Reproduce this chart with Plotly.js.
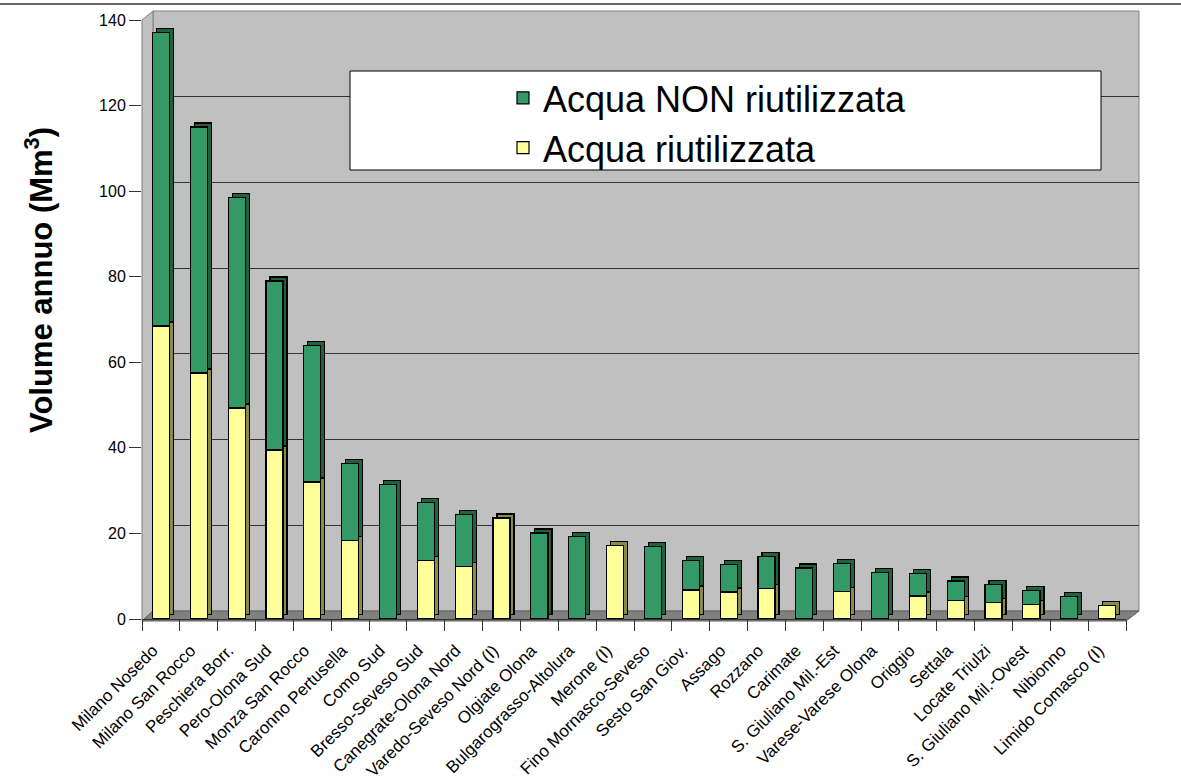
<!DOCTYPE html>
<html>
<head>
<meta charset="utf-8">
<script src="https://cdn.plot.ly/plotly-3.0.1.min.js"></script>
<style>html,body{margin:0;padding:0;background:#fff;}#chart{width:1181px;height:784px;}</style>
</head>
<body>
<div id="chart"></div>
<script>
// ---- data ----
const categories = [
  "Milano Nosedo","Milano San Rocco","Peschiera Borr.","Pero-Olona Sud","Monza San Rocco",
  "Caronno Pertusella","Como Sud","Bresso-Seveso Sud","Canegrate-Olona Nord","Varedo-Seveso Nord (I)",
  "Olgiate Olona","Bulgarograsso-Altolura","Merone (I)","Fino Mornasco-Seveso","Sesto San Giov.",
  "Assago","Rozzano","Carimate","S. Giuliano Mil.-Est","Varese-Varese Olona",
  "Origgio","Settala","Locate Triulzi","S. Giuliano Mil.-Ovest","Nibionno","Limido Comasco (I)"
];
const riutilizzata = [68.5,57.5,49.3,39.5,32.0,18.3,null,13.7,12.2,23.6,
  null,null,17.1,null,6.8,6.3,7.2,null,6.5,null,5.4,4.4,3.9,3.3,null,3.1];
const nonRiutilizzata = [68.5,57.5,49.3,39.5,32.0,18.1,31.5,13.6,12.3,null,
  20.1,19.3,null,16.9,6.8,6.4,7.5,11.9,6.5,10.9,5.3,4.5,4.2,3.4,5.3,null];
const seriesNames = ["Acqua riutilizzata","Acqua NON riutilizzata"];
const yTitle = "Volume annuo (Mm<sup>3</sup>)";

// ---- geometry helpers (pixels -> paper) ----
const W = 1181, H = 784;
const px = x => x / W;
const py = y => 1 - y / H;
const FONT = "Liberation Sans, Arial, sans-serif";

const yellow = "#FFFF99", green = "#339966";
const yellowSide = "#8A8A4C", greenSide = "#22603F";
const outline = {color: "#000", width: 1.2};

const traces = [
  // depth (3D side/top) bars
  {type:"bar", x:categories, y:riutilizzata, xaxis:"x2", yaxis:"y2", showlegend:false, hoverinfo:"skip",
   marker:{color:yellowSide, line:outline}},
  {type:"bar", x:categories, y:nonRiutilizzata, xaxis:"x2", yaxis:"y2", showlegend:false, hoverinfo:"skip",
   marker:{color:greenSide, line:outline}},
  // front bars
  {type:"bar", name:seriesNames[0], x:categories, y:riutilizzata, xaxis:"x3", yaxis:"y3",
   marker:{color:yellow, line:outline}},
  {type:"bar", name:seriesNames[1], x:categories, y:nonRiutilizzata, xaxis:"x3", yaxis:"y3",
   marker:{color:green, line:outline}},
  // back wall helper (empty) so gridlines render
  {type:"scatter", x:[null], y:[null], xaxis:"x", yaxis:"y", showlegend:false, hoverinfo:"skip"}
];

const frontL = 142, frontR = 1126, front0 = 619, front140 = 20;
const dx = 4, dy = 4;

const layout = {
  width: W, height: H, autosize:false,
  margin:{l:0,r:0,t:0,b:0,pad:0},
  paper_bgcolor:"#ffffff", plot_bgcolor:"rgba(0,0,0,0)",
  font:{family:FONT, color:"#000", size:14},
  barmode:"stack", bargap:0.55,
  showlegend:true,
  legend:{x:px(503), y:py(68), xanchor:"left", yanchor:"top",
          bgcolor:"rgba(0,0,0,0)", borderwidth:0, traceorder:"reversed",
          font:{family:FONT, size:36, color:"#000"}},
  // back wall
  xaxis:{domain:[px(153), px(1139)], range:[0,1], visible:false, fixedrange:true},
  yaxis:{domain:[py(611), py(11)], range:[0,140], dtick:20, showgrid:true, gridcolor:"#333",
         gridwidth:1, showticklabels:false, ticks:"", zeroline:false, showline:false, automargin:false},
  // depth bars
  xaxis2:{domain:[px(frontL+dx), px(frontR+dx)], type:"category", visible:false, anchor:"y2"},
  yaxis2:{domain:[py(front0-dy), py(front140-dy)], range:[0,140], visible:false, anchor:"x2"},
  // front bars + axes
  xaxis3:{domain:[px(frontL), px(frontR)], type:"category", anchor:"y3", automargin:false,
          showgrid:false, zeroline:false, showline:true, linecolor:"#333", linewidth:1,
          ticks:"outside", tickson:"boundaries", ticklen:11, tickcolor:"#333", tickwidth:1,
          tickangle:-45, ticklabelstandoff:14, ticklabelshift:-8,
          tickfont:{family:FONT, size:17, color:"#000"}},
  yaxis3:{domain:[py(front0), py(front140)], range:[0,140], dtick:20, anchor:"x3", automargin:false,
          showgrid:false, zeroline:false, showline:false,
          ticks:"outside", ticklen:12, tickcolor:"#333", tickwidth:1,
          tickfont:{family:FONT, size:16, color:"#000"}},
  shapes:[
    // top border line
    {type:"line", xref:"paper", yref:"paper", x0:0, x1:1, y0:py(4), y1:py(4), line:{color:"#333", width:1.5}, layer:"below"},
    // back wall
    {type:"rect", xref:"paper", yref:"paper", x0:px(153), x1:px(1139), y0:py(611), y1:py(11),
     fillcolor:"#C0C0C0", line:{color:"#808080", width:1}, layer:"below"},
    // left wall
    {type:"path", xref:"paper", yref:"paper",
     path:`M${px(frontL)},${py(621)} L${px(frontL)},${py(front140)} L${px(153)},${py(11)} L${px(153)},${py(611)} Z`,
     fillcolor:"#C0C0C0", line:{color:"#808080", width:1}, layer:"below"},
    // floor
    {type:"path", xref:"paper", yref:"paper",
     path:`M${px(frontL)},${py(621)} L${px(frontR)},${py(621)} L${px(1139)},${py(611)} L${px(153)},${py(611)} Z`,
     fillcolor:"#808080", line:{color:"#606060", width:1}, layer:"below"},
    // legend box
    {type:"rect", xref:"paper", yref:"paper", x0:px(350), x1:px(1101), y0:py(170), y1:py(71),
     fillcolor:"#ffffff", line:{color:"#000", width:1}, layer:"above"}
  ],
  annotations:[
    {text:yTitle, xref:"paper", yref:"paper", x:px(39), y:py(280), xanchor:"center", yanchor:"middle",
     textangle:-90, showarrow:false, font:{family:FONT, size:31, color:"#000", weight:"bold"}}
  ]
};

Plotly.newPlot("chart", traces, layout, {displayModeBar:false, staticPlot:true});
</script>
</body>
</html>
